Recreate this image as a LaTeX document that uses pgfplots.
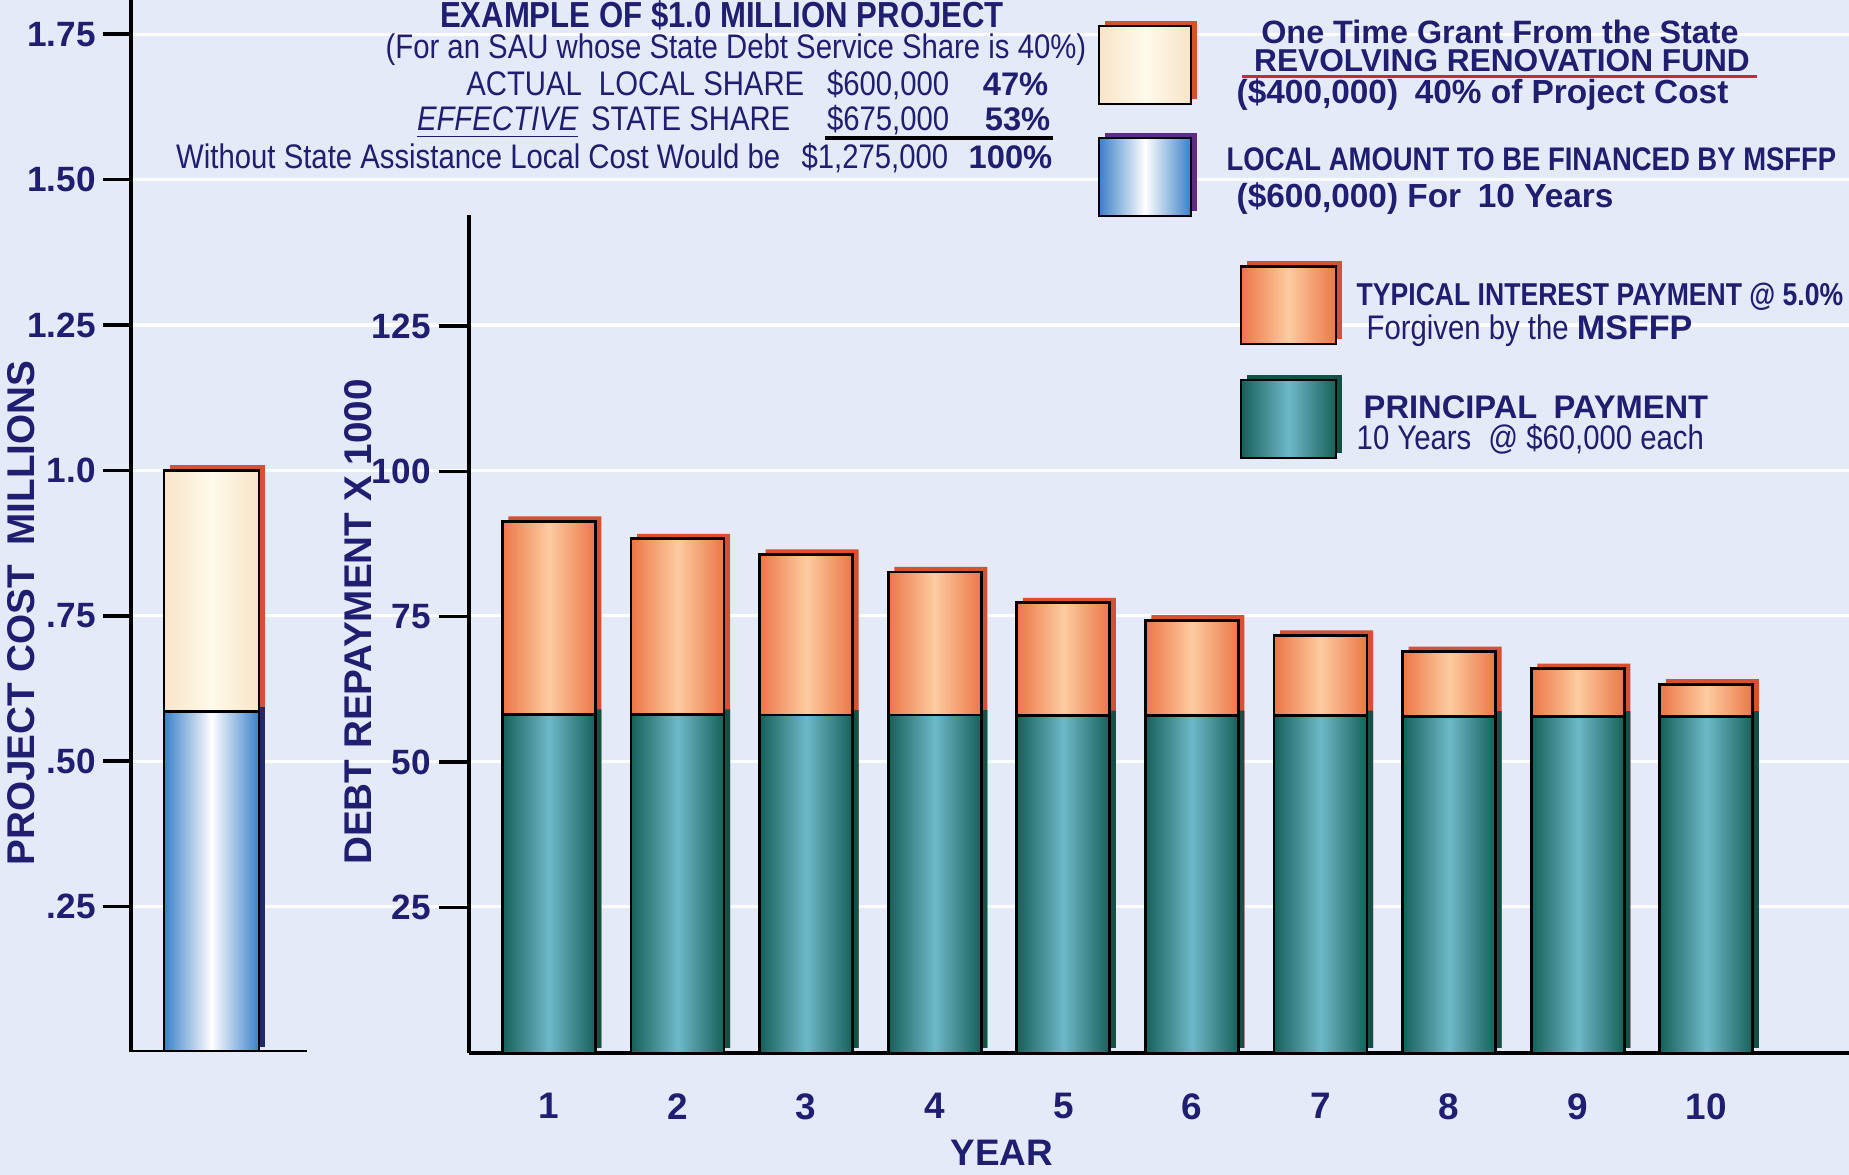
\documentclass[border=0pt]{standalone}
\usepackage{fontspec}
\setmainfont{Liberation Sans}
\newfontfamily\condf[FakeStretch=0.86]{Liberation Sans}
\newfontfamily\condb[FakeStretch=0.84]{Liberation Sans}
\usepackage{pgfplots}
\usepackage{pgfplotstable}
\pgfplotsset{compat=1.18}
\definecolor{bg}{RGB}{228,234,247}
\definecolor{navy}{RGB}{32,30,112}
\definecolor{tealdark}{RGB}{22,96,90}
\definecolor{teallight}{RGB}{110,185,200}
\definecolor{orgdark}{RGB}{236,118,72}
\definecolor{orglight}{RGB}{252,204,160}
\definecolor{shred}{RGB}{215,80,50}
\definecolor{shgreen}{RGB}{20,80,70}
\definecolor{shnavy}{RGB}{45,35,105}
\definecolor{shpurple}{RGB}{95,45,135}
\definecolor{creamedge}{RGB}{248,228,200}
\definecolor{cream}{RGB}{255,250,234}
\definecolor{blueedge}{RGB}{58,128,200}
\definecolor{redline}{RGB}{210,40,40}

\pgfplotstableread{
year principal total
1 58.2 91.4
2 58.2 88.4
3 58.1 85.7
4 58.1 82.7
5 58.0 77.4
6 58.0 74.4
7 58.0 71.8
8 57.9 69.0
9 57.9 66.1
10 57.9 63.4
}\debttable

\pgfplotstableread{
x local total
0.805 0.585 1.0
}\costtable

\begin{document}
\begin{tikzpicture}
\useasboundingbox (0,0) rectangle (18.49,11.75);
\clip (0,0) rectangle (18.49,11.75);
\fill[bg] (0,0) rectangle (18.49,11.75);

% ---------------- left axis: project cost ----------------
\begin{axis}[
  at={(1.31cm,1.23cm)}, anchor=south west,
  x=1cm, y=5.816cm,
  xmin=0, xmax=17.4, ymin=0, ymax=1.82,
  axis x line=none, axis y line*=left,
  axis line style={-, black, line width=1pt},
  ytick={0.25,0.5,0.75,1,1.25,1.5,1.75},
  yticklabels={.25,.50,.75,1.0,1.25,1.50,1.75},
  tick align=outside, major tick length=0.28cm,
  ytick style={black, line width=1pt},
  yticklabel style={font=\bfseries\fontsize{10}{10}\selectfont, text=navy, xshift=0.05cm},
  /pgf/number format/assume math mode=true,
  ymajorgrids, grid style={white, line width=0.9pt},
]
\addplot[ybar, bar width=0.95cm, bar shift=0.06cm, yshift=0.05cm, fill=shred, draw=none]
  table[x=x, y=total]{\costtable};
\addplot[ybar, bar width=0.95cm, bar shift=0.06cm, yshift=0.05cm, fill=shnavy, draw=none]
  table[x=x, y=local]{\costtable};
\addplot[ybar, bar width=0.95cm, bar shift=0pt, draw=black, line width=0.8pt,
  left color=creamedge, right color=creamedge, middle color=cream]
  table[x=x, y=total]{\costtable};
\addplot[ybar, bar width=0.95cm, bar shift=0pt, draw=black, line width=0.8pt,
  left color=blueedge, right color=blueedge, middle color=white]
  table[x=x, y=local]{\costtable};
\draw[black, line width=1pt] (axis cs:0,0) -- (axis cs:1.76,0);
\end{axis}

% ---------------- right axis: debt repayment ----------------
\begin{axis}[
  at={(4.69cm,1.22cm)}, anchor=south west,
  x=1.286cm, y=0.05816cm,
  xmin=0.378, xmax=11.2, ymin=0, ymax=144.1,
  axis x line*=bottom, axis y line*=left,
  axis line style={-, black, line width=1pt},
  xtick={1,2,3,4,5,6,7,8,9,10},
  xticklabels={1,2,3,4,5,6,7,8,9,10},
  xtick style={draw=none},
  ytick={25,50,75,100,125},
  yticklabels={25,50,75,100,125},
  tick align=outside, major tick length=0.3cm,
  ytick style={black, line width=1pt},
  yticklabel style={font=\bfseries\fontsize{10}{10}\selectfont, text=navy, xshift=0.04cm},
  xticklabel style={font=\bfseries\fontsize{10.5}{10}\selectfont, text=navy, yshift=0.02cm},
  /pgf/number format/assume math mode=true,
]
\addplot[ybar, bar width=0.93cm, bar shift=0.06cm, yshift=0.05cm, fill=shred, draw=none]
  table[x=year, y=total]{\debttable};
\addplot[ybar, bar width=0.93cm, bar shift=0.06cm, yshift=0.05cm, fill=shgreen, draw=none]
  table[x=year, y=principal]{\debttable};
\pgfplotsinvokeforeach{1,...,10}{
  \addplot[ybar, bar width=0.93cm, bar shift=0pt, draw=black, line width=0.8pt,
    left color=orgdark, right color=orgdark, middle color=orglight,
    restrict x to domain=#1:#1]
    table[x=year, y=total]{\debttable};
}
\pgfplotsinvokeforeach{1,...,10}{
  \addplot[ybar, bar width=0.93cm, bar shift=0pt, draw=black, line width=0.8pt,
    left color=tealdark, right color=tealdark, middle color=teallight,
    restrict x to domain=#1:#1]
    table[x=year, y=principal]{\debttable};
}
\end{axis}

% ---------------- axis titles ----------------
\node[rotate=90, text=navy, font=\bfseries\fontsize{11}{12}\selectfont] at (0.21,5.62) {PROJECT COST\enspace MILLIONS};
\node[rotate=90, text=navy, font=\bfseries\fontsize{11}{12}\selectfont] at (3.58,5.53) {DEBT REPAYMENT X 1000};
\node[text=navy, font=\bfseries\fontsize{10.5}{12}\selectfont] at (10.02,0.22) {YEAR};

% ---------------- example text block ----------------
\begin{scope}[every node/.style={text=navy, inner sep=0pt}]
\node[anchor=base, font=\condf\bfseries\fontsize{10.3}{12}\selectfont] at (7.22,11.47) {EXAMPLE OF \$1.0 MILLION PROJECT};
\node[anchor=base east, font=\condf\fontsize{9.7}{12}\selectfont] at (10.87,11.16) {(For an SAU whose State Debt Service Share is 40\%)};
\node[anchor=base east, font=\condf\fontsize{9.7}{12}\selectfont] at (8.05,10.79) {ACTUAL\enspace LOCAL SHARE};
\node[anchor=base east, font=\condf\fontsize{9.7}{12}\selectfont] at (9.50,10.79) {\$600,000};
\node[anchor=base east, font=\bfseries\fontsize{9.3}{12}\selectfont] at (10.49,10.79) {47\%};
\node[anchor=base east, font=\condf\itshape\fontsize{9.7}{12}\selectfont] at (5.79,10.44) {\underline{EFFECTIVE}};
\node[anchor=base east, font=\condf\fontsize{9.7}{12}\selectfont] at (7.91,10.44) {STATE SHARE};
\node[anchor=base east, font=\condf\fontsize{9.7}{12}\selectfont] at (9.50,10.44) {\$675,000};
\node[anchor=base east, font=\bfseries\fontsize{9.3}{12}\selectfont] at (10.51,10.44) {53\%};
\draw[black, line width=0.9pt] (8.25,10.37) -- (10.53,10.37);
\node[anchor=base east, font=\condf\fontsize{9.7}{12}\selectfont] at (7.81,10.06) {Without State Assistance Local Cost Would be};
\node[anchor=base east, font=\condf\fontsize{9.7}{12}\selectfont] at (9.49,10.06) {\$1,275,000};
\node[anchor=base east, font=\bfseries\fontsize{9.3}{12}\selectfont] at (10.53,10.06) {100\%};
\end{scope}

% ---------------- legend ----------------
% box 1: grant
\fill[shred] (11.05,10.76) rectangle (11.97,11.54);
\shade[left color=creamedge, right color=creamedge, middle color=cream] (10.99,10.71) rectangle (11.91,11.49);
\draw[black, line width=0.8pt] (10.99,10.71) rectangle (11.91,11.49);
% box 2: local
\fill[shpurple] (11.05,9.64) rectangle (11.97,10.42);
\shade[left color=blueedge, right color=blueedge, middle color=white] (10.99,9.59) rectangle (11.91,10.37);
\draw[black, line width=0.8pt] (10.99,9.59) rectangle (11.91,10.37);
% box 3: interest
\fill[shred] (12.47,8.36) rectangle (13.42,9.135);
\shade[left color=orgdark, right color=orgdark, middle color=orglight] (12.41,8.31) rectangle (13.36,9.085);
\draw[black, line width=0.8pt] (12.41,8.31) rectangle (13.36,9.085);
% box 4: principal
\fill[shgreen] (12.47,7.22) rectangle (13.42,8.00);
\shade[left color=tealdark, right color=tealdark, middle color=teallight] (12.41,7.17) rectangle (13.36,7.95);
\draw[black, line width=0.8pt] (12.41,7.17) rectangle (13.36,7.95);

\begin{scope}[every node/.style={text=navy, inner sep=0pt}]
\node[anchor=base, text depth=0pt, font=\bfseries\fontsize{9.2}{12}\selectfont] at (15.00,11.31) {One Time Grant From the State};
\node[anchor=base, font=\bfseries\fontsize{9.0}{12}\selectfont] at (15.02,11.03) {REVOLVING RENOVATION FUND};
\draw[redline, line width=1pt] (12.42,10.985) -- (17.57,10.985);
\node[anchor=base west, font=\bfseries\fontsize{9.5}{12}\selectfont] at (12.36,10.71) {(\$400,000)\enspace 40\% of Project Cost};
\node[anchor=base west, font=\condb\bfseries\fontsize{9.3}{12}\selectfont] at (12.26,10.04) {LOCAL AMOUNT TO BE FINANCED BY MSFFP};
\node[anchor=base west, font=\bfseries\fontsize{9.5}{12}\selectfont] at (12.36,9.67) {(\$600,000) For\enspace 10 Years};
\node[anchor=base west, font=\condb\bfseries\fontsize{9.0}{12}\selectfont] at (13.56,8.69) {TYPICAL INTEREST PAYMENT @ 5.0\%};
\node[anchor=base west, font=\condf\fontsize{9.7}{12}\selectfont] at (13.66,8.35) {Forgiven by the {\normalfont\bfseries MSFFP}};
\node[anchor=base west, font=\bfseries\fontsize{9.3}{12}\selectfont] at (13.63,7.56) {PRINCIPAL\enspace PAYMENT};
\node[anchor=base west, font=\condf\fontsize{9.7}{12}\selectfont] at (13.56,7.255) {10 Years\enspace @ \$60,000 each};
\end{scope}
\end{tikzpicture}
\end{document}
